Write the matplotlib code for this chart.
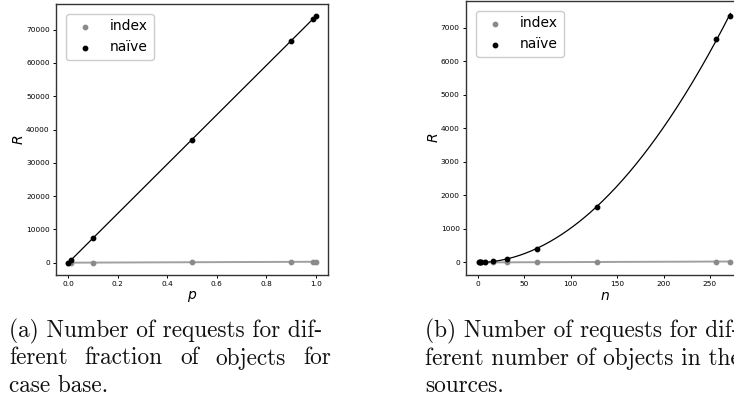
import numpy as np
import matplotlib
matplotlib.use("Agg")
import matplotlib.pyplot as plt

# ---- data ----
p_vals = [0.0, 0.01, 0.1, 0.5, 0.9, 0.99, 1.0]
naive_p = [0, 740, 7400, 37000, 66600, 73300, 74000]
index_p = [0, 3, 27, 136, 245, 270, 272]

n_vals = [1, 2, 4, 8, 16, 32, 64, 128, 256, 272]
naive_n = [0, 0, 2, 6, 30, 105, 400, 1660, 6660, 7360]
index_n = [0, 0, 0, 1, 2, 3, 6, 13, 26, 27]

caption_a = ["(a) Number of requests for dif-",
             "ferent fraction of objects for",
             "case base."]
caption_b = ["(b) Number of requests for dif-",
             "ferent number of objects in the",
             "sources."]

W, H = 734, 403
fig = plt.figure(figsize=(W / 100, H / 100), dpi=100)

def box(x0, y0, x1, y1):
    return [x0 / W, (H - y1) / H, (x1 - x0) / W, (y1 - y0) / H]

ax1 = fig.add_axes(box(56, 4, 328, 275))
ax2 = fig.add_axes(box(466, 1, 743, 275))

def panel(ax, x, idx, nai, deg, xlabel):
    x = np.asarray(x, float)
    xs = np.linspace(x.min(), x.max(), 300)
    ci = np.polyfit(x, idx, 1)
    cn = np.polyfit(x, nai, deg)
    ax.plot(xs, np.polyval(ci, xs), color="#a0a0a0", lw=1.4, zorder=1)
    ax.plot(xs, np.polyval(cn, xs), color="black", lw=0.9, zorder=1)
    ax.scatter(x, idx, s=10, color="#8a8a8a", label="index", zorder=3)
    ax.scatter(x, nai, s=10, color="black", label="naïve", zorder=3)
    ax.tick_params(labelsize=5.3, length=2.5, width=0.7, pad=2)
    ax.set_xlabel(f"${xlabel}$", fontsize=10, labelpad=1)
    ax.set_ylabel("$R$", fontsize=10, labelpad=0)
    for s in ax.spines.values():
        s.set_linewidth(1.0)
        s.set_color("#333333")
    ax.legend(loc="upper left", fontsize=10, handlelength=2.0,
              handletextpad=0.8, borderaxespad=0.7, markerscale=1.0,
              framealpha=1.0)

panel(ax1, p_vals, index_p, naive_p, 1, "p")
panel(ax2, n_vals, index_n, naive_n, 2, "n")
ax1.set_xticks([0.0, 0.2, 0.4, 0.6, 0.8, 1.0])
ax2.set_xticks([0, 50, 100, 150, 200, 250])

cfont = dict(family="cmr10", fontsize=16.8, color="#111111")

def put_lines(lines, x0, y0, dy, justify_width=None, justify_idx=()):
    fig.canvas.draw()
    r = fig.canvas.get_renderer()
    for i, line in enumerate(lines):
        ytop = (H - (y0 + i * dy)) / H
        if i in justify_idx and justify_width:
            words = line.split(" ")
            ts = [fig.text(0, ytop, w, va="baseline", **cfont) for w in words]
            widths = [t.get_window_extent(r).width for t in ts]
            gap = (justify_width - sum(widths)) / (len(words) - 1)
            xx = x0
            for t, w in zip(ts, widths):
                t.set_x(xx / W)
                xx += w + gap
        else:
            fig.text(x0 / W, ytop, line, va="baseline", **cfont)

put_lines(caption_a, 9, 337, 27.5, justify_width=322, justify_idx=(1,))
put_lines(caption_b, 425, 337, 27.5)

fig.savefig("out.png", dpi=100)
